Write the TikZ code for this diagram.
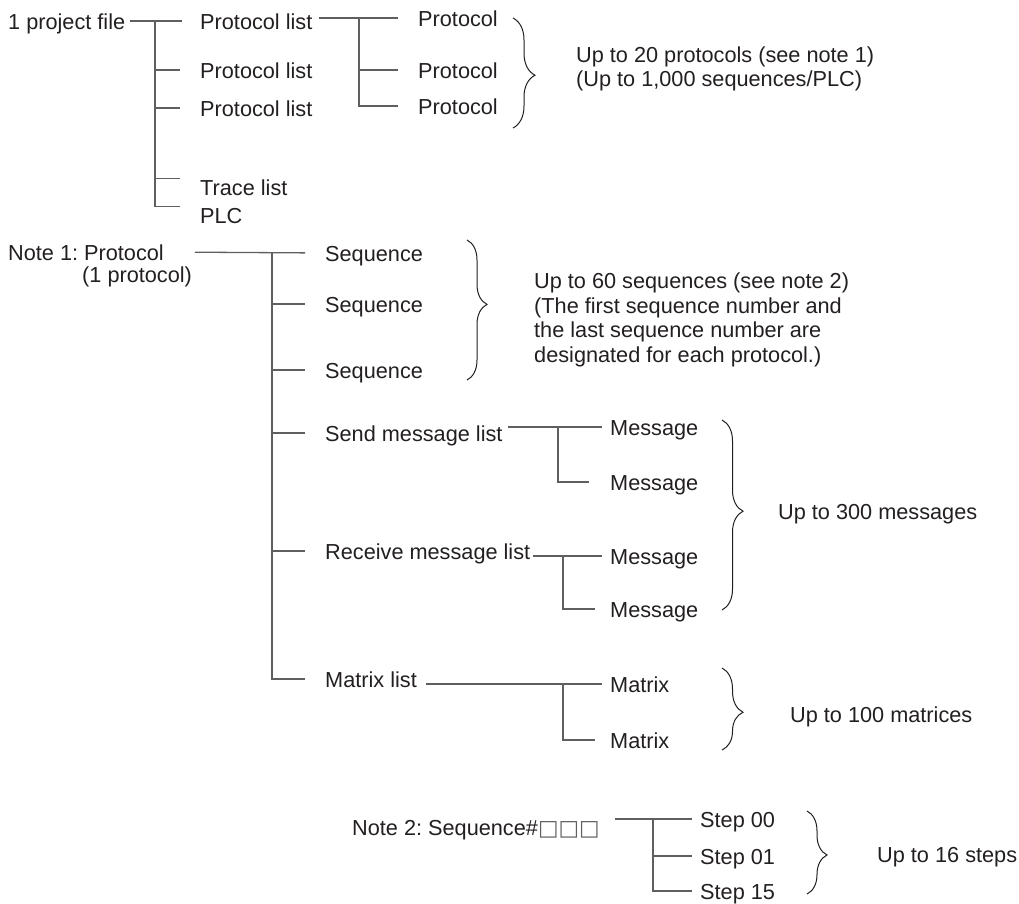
\documentclass[tikz,border=0pt]{standalone}
\usepackage{fontspec}
\setmainfont{Liberation Sans}
\newfontfamily\boxfont{DejaVu Sans}
\usepackage{xcolor}
\usetikzlibrary{decorations.pathreplacing}
\definecolor{inkblack}{RGB}{35,31,32}
\definecolor{wiregray}{RGB}{95,95,95}
\frenchspacing

\tikzset{
  item/.style={anchor=west, inner sep=0pt, text height=16pt, text depth=0pt,
    text=inkblack, font=\fontsize{21.7pt}{25pt}\selectfont},
  limit/.style={anchor=west, inner sep=0pt, align=left, text=inkblack,
    font=\fontsize{21.7pt}{24.5pt}\selectfont},
  wire/.style={draw=wiregray, line width=1.3pt},
  bracket/.style 2 args={draw=inkblack, line width=1pt, decorate,
    decoration={brace, amplitude=#1, aspect=#2}},
}

\begin{document}
\begin{tikzpicture}[x=1pt,y=-1pt]
  \useasboundingbox (0,0) rectangle (1019,903);
  % project file tree
  \node[item] (proj)  at (8,21)    {1 project file};
  \node[item] (pl1)   at (200,21)  {Protocol list};
  \node[item] (pl2)   at (200,70)  {Protocol list};
  \node[item] (pl3)   at (200,108) {Protocol list};
  \node[item] (trace) at (200,187) {Trace list};
  \node[item] (plc)   at (200,215) {PLC};
  \node[item] (prot1) at (418,18)  {Protocol};
  \node[item] (prot2) at (418,70)  {Protocol};
  \node[item] (prot3) at (418,106) {Protocol};
  \coordinate (fork1) at (155,21);
  \coordinate (fork2) at (359,18);
  \draw[wire, shorten <=5pt, shorten >=18pt] (proj.east) -- (pl1.west);
  \draw[wire, shorten >=20pt] (fork1) |- (plc.north west);
  \foreach \n in {pl2,pl3}
    \draw[wire, shorten >=20pt] (fork1 |- \n.west) -- (\n.west);
  \draw[wire, shorten >=20pt] (fork1 |- trace.north west) -- (trace.north west);
  \draw[wire, shorten <=6pt, shorten >=20pt] (pl1.east |- prot1.west) -- (prot1.west);
  \draw[wire, shorten >=20pt] (fork2) |- (prot3.west);
  \draw[wire, shorten >=20pt] (fork2 |- prot2.west) -- (prot2.west);
  \draw[bracket={22pt}{0.52}] (513,18) -- (513,128);
  \node[limit] (lim1) at (576,69) {Up to 20 protocols (see note 1)\\(Up to 1,000 sequences/PLC)};

  % note 1: one protocol
  \node[item] (n1)    at (8,252)   {Note 1: Protocol};
  \node[item] (n1sub) at (82,274)  {(1 protocol)};
  \node[item] (seq1)  at (325,253) {Sequence};
  \node[item] (seq2)  at (325,304) {Sequence};
  \node[item] (seq3)  at (325,370) {Sequence};
  \node[item] (send)  at (325,433) {Send message list};
  \node[item] (recv)  at (325,551) {Receive message list};
  \node[item] (matl)  at (325,679) {Matrix list};
  \node[item] (msg1)  at (610,427) {Message};
  \node[item] (msg2)  at (610,482) {Message};
  \node[item] (msg3)  at (610,556) {Message};
  \node[item] (msg4)  at (610,609) {Message};
  \node[item] (mat1)  at (610,684) {Matrix};
  \node[item] (mat2)  at (610,740) {Matrix};
  \coordinate (fork3) at (272,253);
  \coordinate (fork4) at (558,427);
  \coordinate (fork5) at (563,556);
  \coordinate (fork6) at (563,684);
  \draw[wire, shorten <=31pt, shorten >=20pt] (n1.east) -- (seq1.west);
  \draw[wire, shorten >=20pt] (fork3) |- (matl.west);
  \foreach \n in {seq2,seq3,send,recv}
    \draw[wire, shorten >=20pt] (fork3 |- \n.west) -- (\n.west);
  \draw[wire, shorten <=5pt, shorten >=8pt] (send.east |- msg1.west) -- (msg1.west);
  \draw[wire, shorten >=21pt] (fork4) |- (msg2.west);
  \draw[wire, shorten <=3pt, shorten >=8pt] (recv.east |- msg3.west) -- (msg3.west);
  \draw[wire, shorten >=15pt] (fork5) |- (msg4.west);
  \draw[wire, shorten <=9pt, shorten >=8pt] (matl.east |- mat1.west) -- (mat1.west);
  \draw[wire, shorten >=15pt] (fork6) |- (mat2.west);
  \draw[bracket={20pt}{0.46}] (467,240) -- (467,380);
  \draw[bracket={21pt}{0.48}] (722,420) -- (722,610);
  \draw[bracket={21pt}{0.54}] (722,668) -- (722,750);
  \node[limit] (lim2) at (534,320) {Up to 60 sequences (see note 2)\\(The first sequence number and\\the last sequence number are\\designated for each protocol.)};
  \node[item] (lim3) at (778,511) {Up to 300 messages};
  \node[item] (lim4) at (790,714) {Up to 100 matrices};

  % note 2: steps of a sequence
  \node[item] (n2)   at (352,827) {Note 2: Sequence\#{\boxfont\textcolor{wiregray}{□□□}}};
  \node[item] (st0)  at (700,819) {Step 00};
  \node[item] (st1)  at (700,856) {Step 01};
  \node[item] (st15) at (700,891) {Step 15};
  \coordinate (fork7) at (653,819);
  \draw[wire, shorten <=15pt, shorten >=8pt] (n2.east |- st0.west) -- (st0.west);
  \draw[wire, shorten >=8pt] (fork7) |- (st15.west);
  \draw[wire, shorten >=8pt] (fork7 |- st1.west) -- (st1.west);
  \draw[bracket={20pt}{0.53}] (807,811) -- (807,894);
  \node[item] (lim5) at (877,854) {Up to 16 steps};
\end{tikzpicture}
\end{document}
